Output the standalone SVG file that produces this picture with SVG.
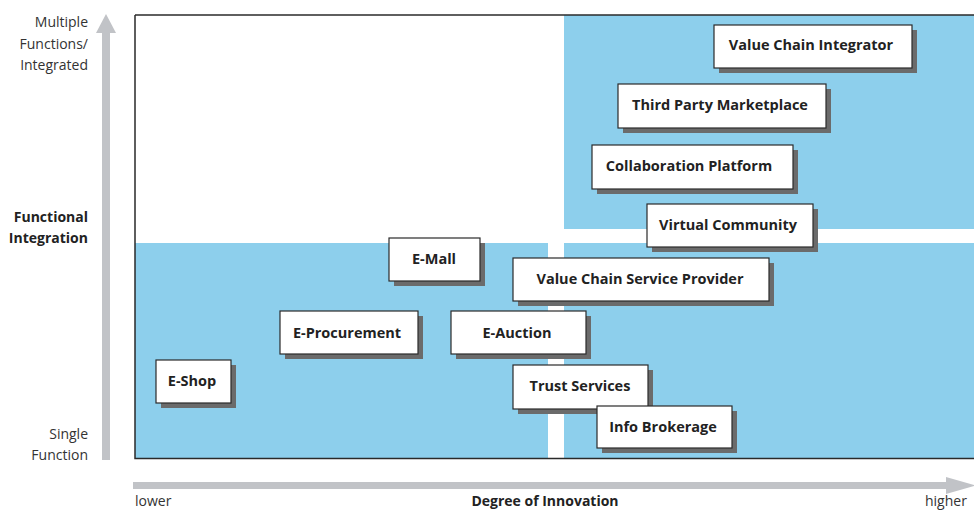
<svg xmlns="http://www.w3.org/2000/svg" width="974" height="512" viewBox="0 0 974 512">
<defs>
<style>
.bg{fill:#8dcfec}
.sh{fill:#6b6b6b}
.bx{fill:#fff;stroke:#2a2a2a;stroke-width:1.2}
.t{font-family:"Open Sans","Liberation Sans",sans-serif;font-weight:bold;font-size:14.5px;fill:#222;text-anchor:middle}
.ax{font-family:"Open Sans","Liberation Sans",sans-serif;font-size:14px;fill:#333;text-anchor:end}
.axb{font-family:"Open Sans","Liberation Sans",sans-serif;font-size:14px;font-weight:bold;fill:#222;text-anchor:end}
.arr{fill:#c1c3c7}
</style>
</defs>
<rect width="974" height="512" fill="#fff"/>
<g id="plot">
<rect class="bg" x="135" y="243" width="413" height="215"/>
<rect class="bg" x="564" y="15" width="410" height="214"/>
<rect class="bg" x="564" y="243" width="410" height="215"/>
<polyline points="135,15 135,458.5 974,458.5" fill="none" stroke="#2a2a2a" stroke-width="1.5"/>
<line x1="135" y1="15" x2="974" y2="15" stroke="#2a2a2a" stroke-width="1.5"/>
</g>
<g id="axes">
<polygon class="arr" points="102,460 110,460 110,33 116,33 106,14 96,33 102,33"/>
<polygon class="arr" points="133,482 946,482 946,477 976,485.5 946,494 946,489 133,489"/>
<text class="ax" x="88" y="27">Multiple</text>
<text class="ax" x="88" y="49">Functions/</text>
<text class="ax" x="88" y="70">Integrated</text>
<text class="axb" x="88" y="222">Functional</text>
<text class="axb" x="88" y="243">Integration</text>
<text class="ax" x="88" y="439">Single</text>
<text class="ax" x="88" y="460">Function</text>
<text class="ax" x="135" y="506" style="text-anchor:start">lower</text>
<text class="axb" x="545" y="506" style="text-anchor:middle">Degree of Innovation</text>
<text class="ax" x="925" y="506" style="text-anchor:start">higher</text>
</g>
<g id="connectors"></g>
<g id="n-vci"><rect class="sh" x="719" y="30" width="198" height="43"/><rect class="bx" x="714" y="25" width="198" height="43"/><text class="t" x="811" y="50">Value Chain Integrator</text></g>
<g id="n-tpm"><rect class="sh" x="623" y="89" width="208" height="44"/><rect class="bx" x="618" y="84" width="208" height="44"/><text class="t" x="720" y="110">Third Party Marketplace</text></g>
<g id="n-cp"><rect class="sh" x="597" y="150" width="201" height="44"/><rect class="bx" x="592" y="145" width="201" height="44"/><text class="t" x="689" y="171">Collaboration Platform</text></g>
<g id="n-vc"><rect class="sh" x="652" y="209" width="166" height="43"/><rect class="bx" x="647" y="204" width="166" height="43"/><text class="t" x="728" y="230">Virtual Community</text></g>
<g id="n-emall"><rect class="sh" x="394" y="243" width="91" height="43"/><rect class="bx" x="389" y="238" width="91" height="43"/><text class="t" x="434" y="264">E-Mall</text></g>
<g id="n-vcsp"><rect class="sh" x="518" y="263" width="256" height="43"/><rect class="bx" x="513" y="258" width="256" height="43"/><text class="t" x="640" y="284">Value Chain Service Provider</text></g>
<g id="n-eproc"><rect class="sh" x="285" y="316" width="138" height="43"/><rect class="bx" x="280" y="311" width="138" height="43"/><text class="t" x="347" y="338">E-Procurement</text></g>
<g id="n-eauc"><rect class="sh" x="456" y="316" width="135" height="43"/><rect class="bx" x="451" y="311" width="135" height="43"/><text class="t" x="517" y="338">E-Auction</text></g>
<g id="n-eshop"><rect class="sh" x="161" y="365" width="75" height="43"/><rect class="bx" x="156" y="360" width="75" height="43"/><text class="t" x="192" y="386">E-Shop</text></g>
<g id="n-trust"><rect class="sh" x="518" y="370" width="135" height="44"/><rect class="bx" x="513" y="365" width="135" height="44"/><text class="t" x="580" y="391">Trust Services</text></g>
<g id="n-info"><rect class="sh" x="602" y="411" width="135" height="42"/><rect class="bx" x="597" y="406" width="135" height="42"/><text class="t" x="663" y="432">Info Brokerage</text></g>
</svg>
